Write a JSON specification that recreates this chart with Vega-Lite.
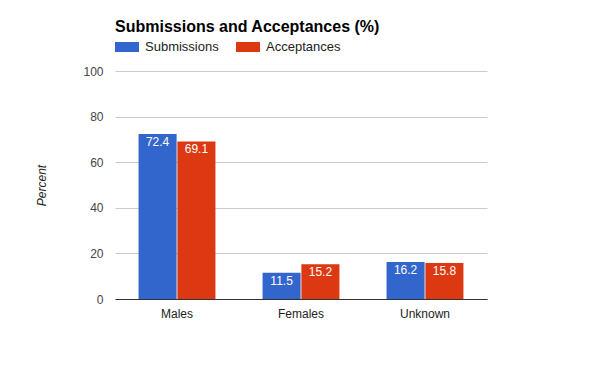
{
  "$schema": "https://vega.github.io/schema/vega-lite/v6.json",
  "autosize": {"type": "none"},
  "width": 372,
  "height": 228,
  "padding": {"left": 115, "top": 71, "right": 113, "bottom": 72},
  "background": "white",
  "title": {
    "text": "Submissions and Acceptances (%)",
    "anchor": "start",
    "frame": "group",
    "font": "Liberation Sans",
    "fontSize": 16,
    "fontWeight": "bold",
    "color": "#000000",
    "offset": 2
  },
  "data": {
    "values": [
      {"group": "Males", "series": "Submissions", "value": 72.4},
      {"group": "Males", "series": "Acceptances", "value": 69.1},
      {"group": "Females", "series": "Submissions", "value": 11.5},
      {"group": "Females", "series": "Acceptances", "value": 15.2},
      {"group": "Unknown", "series": "Submissions", "value": 16.2},
      {"group": "Unknown", "series": "Acceptances", "value": 15.8}
    ]
  },
  "encoding": {
    "x": {
      "field": "group",
      "type": "nominal",
      "sort": ["Males", "Females", "Unknown"],
      "scale": {"paddingInner": 0.38, "paddingOuter": 0.19},
      "axis": {
        "title": null,
        "labelAngle": 0,
        "ticks": false,
        "domainColor": "#333333",
        "labelFont": "Liberation Sans",
        "labelFontSize": 12,
        "labelColor": "#222222",
        "labelPadding": 9
      }
    },
    "xOffset": {
      "field": "series",
      "type": "nominal",
      "sort": ["Submissions", "Acceptances"],
      "scale": {"paddingInner": 0.02}
    },
    "y": {
      "field": "value",
      "type": "quantitative",
      "scale": {"domain": [0, 100]},
      "axis": {
        "title": "Percent",
        "values": [0, 20, 40, 60, 80, 100],
        "ticks": false,
        "domain": false,
        "gridColor": "#cccccc",
        "labelFont": "Liberation Sans",
        "labelFontSize": 12,
        "labelColor": "#444444",
        "labelPadding": 12,
        "titleFont": "Liberation Sans",
        "titleFontSize": 12,
        "titleFontStyle": "italic",
        "titleFontWeight": "normal",
        "titleColor": "#222222",
        "titlePadding": 34
      }
    }
  },
  "layer": [
    {
      "mark": {"type": "bar"},
      "encoding": {
        "color": {
          "field": "series",
          "type": "nominal",
          "sort": ["Submissions", "Acceptances"],
          "scale": {"domain": ["Submissions", "Acceptances"], "range": ["#3366cc", "#dc3912"]},
          "legend": {
            "title": null,
            "orient": "none",
            "direction": "horizontal",
            "legendX": 2,
            "legendY": -34,
            "symbolType": "M-1.2,-0.5H1.2V0.5H-1.2Z",
            "symbolSize": 400,
            "symbolStrokeWidth": 0,
            "symbolOpacity": 1,
            "labelFont": "Liberation Sans",
            "labelFontSize": 13,
            "labelColor": "#222222",
            "labelOffset": 8,
            "columnPadding": 17
          }
        }
      }
    },
    {
      "mark": {
        "type": "text",
        "baseline": "top",
        "dy": 3,
        "color": "white",
        "font": "Liberation Sans",
        "fontSize": 12
      },
      "encoding": {
        "text": {"field": "value", "type": "quantitative", "format": ".1f"}
      }
    }
  ],
  "config": {
    "view": {"stroke": null}
  }
}
